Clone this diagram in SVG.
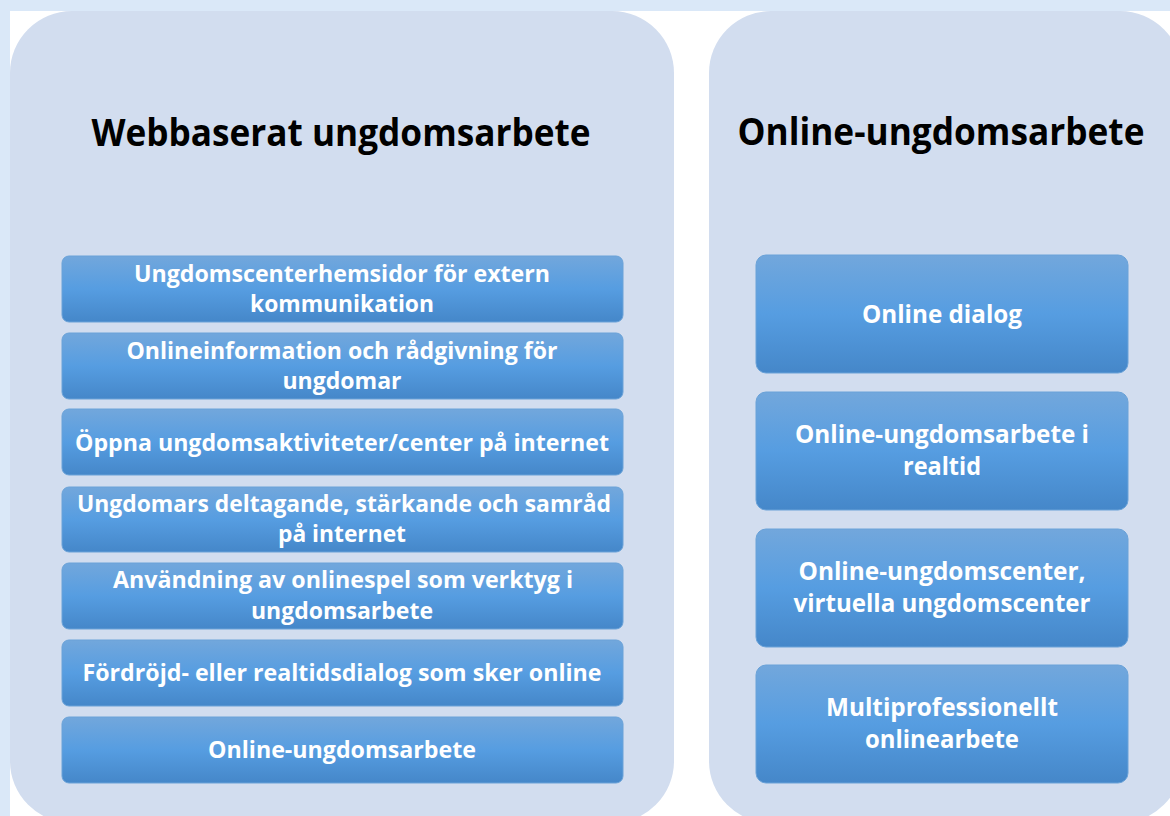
<svg xmlns="http://www.w3.org/2000/svg" width="1170" height="816" viewBox="0 0 1170 816">
<defs>
<linearGradient id="g" x1="0" y1="0" x2="0" y2="1">
<stop offset="0" stop-color="#72a7dc"/>
<stop offset="0.5" stop-color="#569de1"/>
<stop offset="1" stop-color="#4587c9"/>
</linearGradient>
<style>
.panel{fill:#d2ddef}
.box{fill:url(#g);stroke:#6aa2d8;stroke-width:1}
.t{font-family:"Open Sans","Noto Sans",sans-serif;font-weight:bold;fill:#ffffff;font-size:24px;text-anchor:middle}
.tr{font-size:25px}
.h{font-family:"Open Sans","Noto Sans",sans-serif;font-weight:bold;fill:#000000;font-size:37px;text-anchor:middle}
</style>
</defs>
<rect x="0" y="0" width="1170" height="816" fill="#ffffff"/>
<rect x="0" y="0" width="1170" height="11" fill="#dae8f8"/>
<rect x="0" y="0" width="10" height="816" fill="#dae8f8"/>

<g id="panel-left">
<rect class="panel" x="10" y="11" width="664" height="812" rx="62" ry="62"/>
<text class="h" x="341" y="146" textLength="499" lengthAdjust="spacingAndGlyphs">Webbaserat ungdomsarbete</text>
</g>
<g id="panel-right">
<rect class="panel" x="709" y="11" width="473" height="812" rx="62" ry="62"/>
<text class="h" x="941" y="145" textLength="407" lengthAdjust="spacingAndGlyphs">Online-ungdomsarbete</text>
</g>

<g id="l1">
<rect class="box" x="62" y="256" width="561" height="66" rx="7"/>
<text class="t" x="342" y="282" textLength="416" lengthAdjust="spacingAndGlyphs">Ungdomscenterhemsidor för extern</text>
<text class="t" x="342" y="312" textLength="184" lengthAdjust="spacingAndGlyphs">kommunikation</text>
</g>
<g id="l2">
<rect class="box" x="62" y="333" width="561" height="66" rx="7"/>
<text class="t" x="342" y="359" textLength="431" lengthAdjust="spacingAndGlyphs">Onlineinformation och rådgivning för</text>
<text class="t" x="342" y="389" textLength="119" lengthAdjust="spacingAndGlyphs">ungdomar</text>
</g>
<g id="l3">
<rect class="box" x="62" y="409" width="561" height="66" rx="7"/>
<text class="t" x="342" y="451" textLength="534" lengthAdjust="spacingAndGlyphs">Öppna ungdomsaktiviteter/center på internet</text>
</g>
<g id="l4">
<rect class="box" x="62" y="487" width="561" height="65" rx="7"/>
<text class="t" x="344" y="512" textLength="534" lengthAdjust="spacingAndGlyphs">Ungdomars deltagande, stärkande och samråd</text>
<text class="t" x="342" y="542" textLength="128" lengthAdjust="spacingAndGlyphs">på internet</text>
</g>
<g id="l5">
<rect class="box" x="62" y="563" width="561" height="66" rx="7"/>
<text class="t" x="343" y="588" textLength="460" lengthAdjust="spacingAndGlyphs">Användning av onlinespel som verktyg i</text>
<text class="t" x="342" y="619" textLength="182" lengthAdjust="spacingAndGlyphs">ungdomsarbete</text>
</g>
<g id="l6">
<rect class="box" x="62" y="640" width="561" height="66" rx="7"/>
<text class="t" x="342" y="681" textLength="519" lengthAdjust="spacingAndGlyphs">Fördröjd- eller realtidsdialog som sker online</text>
</g>
<g id="l7">
<rect class="box" x="62" y="717" width="561" height="66" rx="7"/>
<text class="t" x="342" y="758" textLength="268" lengthAdjust="spacingAndGlyphs">Online-ungdomsarbete</text>
</g>

<g id="r1">
<rect class="box" x="756" y="255" width="372" height="118" rx="10"/>
<text class="t tr" x="942" y="323" textLength="160" lengthAdjust="spacingAndGlyphs">Online dialog</text>
</g>
<g id="r2">
<rect class="box" x="756" y="392" width="372" height="118" rx="10"/>
<text class="t tr" x="942" y="443" textLength="294" lengthAdjust="spacingAndGlyphs">Online-ungdomsarbete i</text>
<text class="t tr" x="942" y="475" textLength="78" lengthAdjust="spacingAndGlyphs">realtid</text>
</g>
<g id="r3">
<rect class="box" x="756" y="529" width="372" height="118" rx="10"/>
<text class="t tr" x="942" y="580" textLength="287" lengthAdjust="spacingAndGlyphs">Online-ungdomscenter,</text>
<text class="t tr" x="942" y="612" textLength="297" lengthAdjust="spacingAndGlyphs">virtuella ungdomscenter</text>
</g>
<g id="r4">
<rect class="box" x="756" y="665" width="372" height="118" rx="10"/>
<text class="t tr" x="942" y="716" textLength="232" lengthAdjust="spacingAndGlyphs">Multiprofessionellt</text>
<text class="t tr" x="942" y="748" textLength="154" lengthAdjust="spacingAndGlyphs">onlinearbete</text>
</g>
<g id="connectors"></g>
</svg>
